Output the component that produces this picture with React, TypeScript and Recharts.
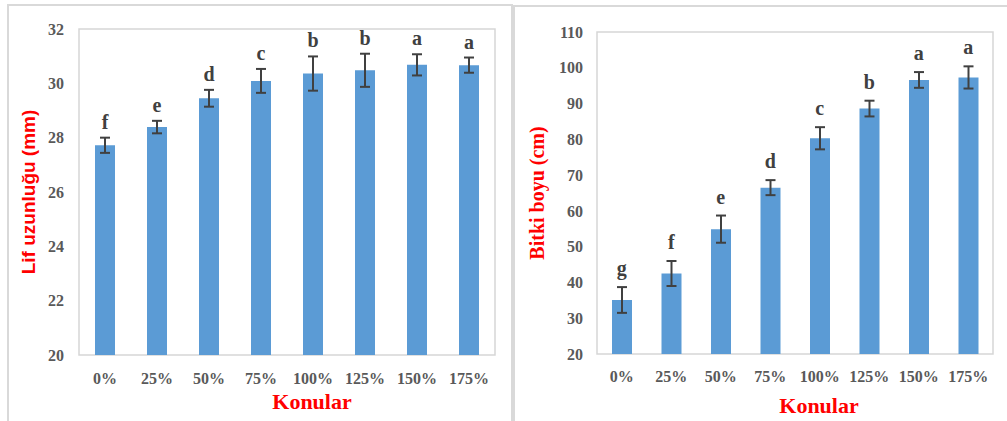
import React from 'react';
import {
  ComposedChart,
  Bar,
  Line,
  XAxis,
  YAxis,
  ErrorBar,
  LabelList,
  ReferenceArea,
} from 'recharts';

// Treatments (fertilizer dose relative to recommended rate)
const categories = ['0%', '25%', '50%', '75%', '100%', '125%', '150%', '175%'];

// Fiber length (mm): mean, standard error, significance groups
const fiberLength = [27.72, 28.39, 29.45, 30.09, 30.36, 30.48, 30.68, 30.67];
const fiberLengthErr = [0.28, 0.23, 0.31, 0.44, 0.63, 0.61, 0.39, 0.28];
const fiberLengthGroups = ['f', 'e', 'd', 'c', 'b', 'b', 'a', 'a'];
const fiberLengthTicks = [20, 22, 24, 26, 28, 30, 32];

// Plant height (cm): mean, standard error, significance groups
const plantHeight = [35.1, 42.5, 54.9, 66.5, 80.3, 88.6, 96.6, 97.3];
const plantHeightErr = [3.6, 3.5, 3.8, 2.1, 3.1, 2.2, 2.2, 3.1];
const plantHeightGroups = ['g', 'f', 'e', 'd', 'c', 'b', 'a', 'a'];
const plantHeightTicks = [20, 30, 40, 50, 60, 70, 80, 90, 100, 110];

const buildRows = (means: number[], errs: number[], groups: string[]) =>
  categories.map((name, i) => ({
    name,
    mean: means[i],
    err: errs[i],
    top: means[i] + errs[i],
    group: groups[i],
  }));

const SERIF = '"Liberation Serif", "Times New Roman", serif';
const SANS = '"Liberation Sans", Arial, sans-serif';
const BAR_BLUE = '#5b9bd5';
const TICK_GRAY = '#595959';
const MARK_DARK = '#404040';
const FRAME = '#d6d6d6';

type PanelProps = {
  left: number;
  width: number;
  margin: { top: number; right: number; bottom: number; left: number };
  yAxisWidth: number;
  ticks: number[];
  rows: ReturnType<typeof buildRows>;
  yTitle: string;
  yTitleFont: string;
  yTitleSize: number;
  yTitleDx: number;
  xTitleDx: number;
  xTitleOffset: number;
  xTickMargin: number;
  yTickMargin: number;
  letterOffset: number;
};

function Panel(p: PanelProps) {
  const lo = p.ticks[0];
  const hi = p.ticks[p.ticks.length - 1];
  return (
    <div style={{ position: 'absolute', left: p.left, top: 0 }}>
      <ComposedChart width={p.width} height={421} data={p.rows} margin={p.margin}>
        <ReferenceArea
          y1={lo}
          y2={hi}
          fill="none"
          stroke={FRAME}
          strokeWidth={1.5}
          ifOverflow="visible"
        />
        <XAxis
          dataKey="name"
          height={60}
          axisLine={false}
          tickLine={false}
          tickMargin={p.xTickMargin}
          interval={0}
          tick={{ fill: TICK_GRAY, fontSize: 16, fontFamily: SERIF, fontWeight: 'bold' }}
          label={{
            value: 'Konular',
            position: 'insideBottom',
            offset: p.xTitleOffset,
            dx: p.xTitleDx,
            fill: '#ff0000',
            fontSize: 22,
            fontFamily: SERIF,
            fontWeight: 'bold',
          }}
        />
        <YAxis
          width={p.yAxisWidth}
          domain={[lo, hi]}
          ticks={p.ticks}
          interval={0}
          axisLine={false}
          tickLine={false}
          tickMargin={p.yTickMargin}
          tick={{ fill: TICK_GRAY, fontSize: 16, fontFamily: SERIF, fontWeight: 'bold' }}
          label={{
            value: p.yTitle,
            angle: -90,
            position: 'center',
            dx: p.yTitleDx,
            fill: '#ff0000',
            fontSize: p.yTitleSize,
            fontFamily: p.yTitleFont,
            fontWeight: 'bold',
          }}
        />
        <Bar dataKey="mean" fill={BAR_BLUE} barSize={20} isAnimationActive={false}>
          <ErrorBar dataKey="err" width={5} stroke={MARK_DARK} strokeWidth={2} isAnimationActive={false} />
        </Bar>
        <Line
          dataKey="top"
          stroke="none"
          dot={false}
          activeDot={false}
          legendType="none"
          isAnimationActive={false}
        >
          <LabelList
            dataKey="group"
            position="top"
            offset={p.letterOffset}
            fill={MARK_DARK}
            fontSize={20}
            fontFamily={SERIF}
            fontWeight="bold"
          />
        </Line>
      </ComposedChart>
    </div>
  );
}

export default function App() {
  const fiberRows = buildRows(fiberLength, fiberLengthErr, fiberLengthGroups);
  const heightRows = buildRows(plantHeight, plantHeightErr, plantHeightGroups);
  return (
    <div
      style={{
        position: 'absolute',
        left: 0,
        top: 0,
        width: 1007,
        height: 421,
        overflow: 'hidden',
        background: '#ffffff',
      }}
    >
      {/* outer frames of the two figure panels */}
      <div
        style={{
          position: 'absolute',
          left: 7,
          top: 4,
          width: 502,
          height: 440,
          border: '2px solid #d9d9d9',
        }}
      />
      <div
        style={{
          position: 'absolute',
          left: 513,
          top: 5,
          width: 540,
          height: 440,
          border: '2px solid #d9d9d9',
        }}
      />
      <Panel
        left={0}
        width={512}
        margin={{ top: 29, right: 17, bottom: 6, left: 0 }}
        yAxisWidth={79}
        ticks={fiberLengthTicks}
        rows={fiberRows}
        yTitle="Lif uzunluğu (mm)"
        yTitleFont={SANS}
        yTitleSize={19}
        yTitleDx={-11.5}
        xTitleDx={25}
        xTitleOffset={6}
        xTickMargin={12}
        yTickMargin={9}
        letterOffset={9}
      />
      <Panel
        left={510}
        width={497}
        margin={{ top: 32, right: 14, bottom: 7, left: 0 }}
        yAxisWidth={87}
        ticks={plantHeightTicks}
        rows={heightRows}
        yTitle="Bitki boyu (cm)"
        yTitleFont={SERIF}
        yTitleSize={20}
        yTitleDx={-16.5}
        xTitleDx={24}
        xTitleOffset={1}
        xTickMargin={11}
        yTickMargin={8}
        letterOffset={12}
      />
    </div>
  );
}
